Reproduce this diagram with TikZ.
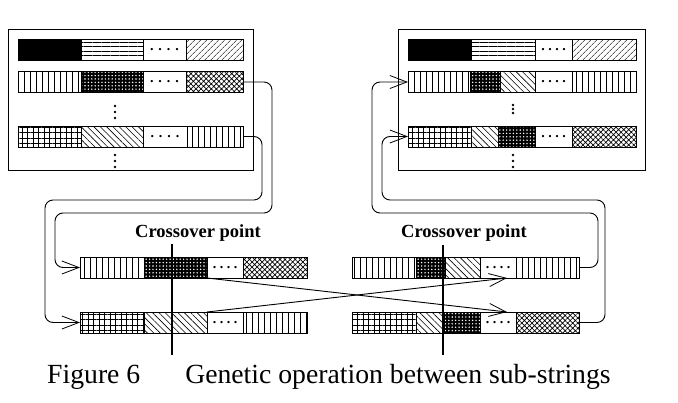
\documentclass[tikz,border=0pt]{standalone}
\usepackage{fontspec}
\setmainfont{Liberation Serif}
\usetikzlibrary{arrows.meta,positioning,patterns.meta}

\tikzset{
  seg/.style={draw,line width=0.9pt,minimum height=21pt,inner sep=0pt,outer sep=0pt,
    font=\fontsize{14}{14}\selectfont\bfseries},
  blk/.style={fill=black},
  hln/.style={pattern={Lines[angle=0,distance=4.5pt,line width=0.7pt]}},
  vln/.style={pattern={Lines[angle=90,distance=6pt,line width=0.8pt]}},
  neln/.style={pattern={Lines[angle=45,distance=4pt,line width=0.6pt]}},
  nwln/.style={pattern={Lines[angle=-45,distance=4.5pt,line width=0.6pt]}},
  grd/.style={pattern={Hatch[angle=0,distance=5.5pt,line width=0.7pt]}},
  xht/.style={pattern={Hatch[angle=45,distance=3.6pt,line width=0.7pt]}},
  ddt/.style={preaction={fill=black},pattern={Dots[distance=3.4pt,radius=0.8pt]},pattern color=white},
  link/.style={line width=0.9pt,rounded corners=8pt,->},
  label/.style={font=\fontsize{18.5}{20}\selectfont\bfseries}
}
\newcommand{\gapdots}{.\hspace{5pt}.\hspace{5pt}.\hspace{5pt}.}
\newcommand{\shortdots}{.\hspace{3.5pt}.\hspace{3.5pt}.\hspace{3.5pt}.}

\begin{document}
\begin{tikzpicture}[x=1pt,y=-1pt,>={Straight Barb[length=17pt,width=13pt,line width=0.8pt]}]
\useasboundingbox (0,0) rectangle (678,402);

\draw[line width=1pt] (8,29) rectangle (253,170);
\node[seg,blk,minimum width=63pt,anchor=west] (ob1a) at (18,50) {};
\node[seg,hln,minimum width=62pt,right=0pt of ob1a] (ob1b) {};
\node[seg,minimum width=43pt,right=0pt of ob1b] (ob1c) {\gapdots};
\node[seg,neln,minimum width=57pt,right=0pt of ob1c] (ob1d) {};
\node[seg,vln,minimum width=63pt,anchor=west] (ob2a) at (18,82) {};
\node[seg,ddt,minimum width=62pt,right=0pt of ob2a] (ob2b) {};
\node[seg,minimum width=43pt,right=0pt of ob2b] (ob2c) {\gapdots};
\node[seg,xht,minimum width=57pt,right=0pt of ob2c] (ob2d) {};
\node[seg,grd,minimum width=63pt,anchor=west] (ob3a) at (18,136.5) {};
\node[seg,nwln,minimum width=62pt,right=0pt of ob3a] (ob3b) {};
\node[seg,minimum width=44pt,right=0pt of ob3b] (ob3c) {\gapdots};
\node[seg,vln,minimum width=56pt,right=0pt of ob3c] (ob3d) {};
\foreach \y in {106,112,118,155,161,167} \fill (115,\y) circle (1.3pt);

\draw[line width=1pt] (398,29) rectangle (645,170);
\node[seg,blk,minimum width=63pt,anchor=west] (nb1a) at (408,50) {};
\node[seg,hln,minimum width=64pt,right=0pt of nb1a] (nb1b) {};
\node[seg,minimum width=37pt,right=0pt of nb1b] (nb1c) {\shortdots};
\node[seg,neln,minimum width=64pt,right=0pt of nb1c] (nb1d) {};
\node[seg,vln,minimum width=62pt,anchor=west] (nb2a) at (408,82) {};
\node[seg,ddt,minimum width=30pt,right=0pt of nb2a] (nb2b) {};
\node[seg,nwln,minimum width=35pt,right=0pt of nb2b] (nb2c) {};
\node[seg,minimum width=37pt,right=0pt of nb2c] (nb2d) {\shortdots};
\node[seg,vln,minimum width=64pt,right=0pt of nb2d] (nb2e) {};
\node[seg,grd,minimum width=63pt,anchor=west] (nb3a) at (408,136.5) {};
\node[seg,nwln,minimum width=27pt,right=0pt of nb3a] (nb3b) {};
\node[seg,ddt,minimum width=37pt,right=0pt of nb3b] (nb3c) {};
\node[seg,minimum width=37pt,right=0pt of nb3c] (nb3d) {\shortdots};
\node[seg,xht,minimum width=64pt,right=0pt of nb3d] (nb3e) {};
\foreach \y in {105,109,113,155,161,167} \fill (513,\y) circle (1.3pt);

\node[seg,vln,minimum width=64pt,anchor=west] (pa1) at (80,267.5) {};
\node[seg,ddt,minimum width=63pt,right=0pt of pa1] (pa2) {};
\node[seg,minimum width=36pt,right=0pt of pa2] (pa3) {\shortdots};
\node[seg,xht,minimum width=64pt,right=0pt of pa3] (pa4) {};
\node[seg,grd,minimum width=64pt,anchor=west] (pb1) at (80,322.5) {};
\node[seg,nwln,minimum width=63pt,right=0pt of pb1] (pb2) {};
\node[seg,minimum width=36pt,right=0pt of pb2] (pb3) {\shortdots};
\node[seg,vln,minimum width=64pt,right=0pt of pb3] (pb4) {};

\node[seg,vln,minimum width=64pt,anchor=west] (ca1) at (352,267.5) {};
\node[seg,ddt,minimum width=29pt,right=0pt of ca1] (ca2) {};
\node[seg,nwln,minimum width=35pt,right=0pt of ca2] (ca3) {};
\node[seg,minimum width=36pt,right=0pt of ca3] (ca4) {\shortdots};
\node[seg,vln,minimum width=63pt,right=0pt of ca4] (ca5) {};
\node[seg,grd,minimum width=64pt,anchor=west] (cb1) at (352,322.5) {};
\node[seg,nwln,minimum width=28pt,right=0pt of cb1] (cb2) {};
\node[seg,ddt,minimum width=36pt,right=0pt of cb2] (cb3) {};
\node[seg,minimum width=36pt,right=0pt of cb3] (cb4) {\shortdots};
\node[seg,xht,minimum width=63pt,right=0pt of cb4] (cb5) {};

\draw[link] (ob2d.east) -- (272,82) -- (272,213) -- (55,213) -- (55,267.5) -- (pa1.west);
\draw[link] (ob3d.east) -- (262,136.5) -- (262,200) -- (45,200) -- (45,322.5) -- (pb1.west);
\draw[link] (ca5.east) -- (598,267.5) -- (598,213) -- (372,213) -- (372,82) -- (nb2a.west);
\draw[link] (cb5.east) -- (605,322.5) -- (605,200) -- (382,200) -- (382,136.5) -- (nb3a.west);
\draw[->,line width=0.9pt] (pa2.south east) -- ([xshift=9pt]cb4.north);
\draw[->,line width=0.9pt] (pb2.north east) -- ([xshift=9pt]ca4.south);

\node[label] (xlab1) at (198,233) {Crossover point};
\node[label] (xlab2) at (464,233) {Crossover point};
\coordinate (xt1) at (172,244); \coordinate (xb1) at (172,355);
\coordinate (xt2) at (443,245); \coordinate (xb2) at (443,355);
\draw[line width=1.1pt] (xt1) -- (xb1);
\draw[line width=1.1pt] (xt2) -- (xb2);

\node[anchor=base west,inner sep=0pt,font=\fontsize{27.7}{30}\selectfont] (cap) at (47,383)
  {Figure 6\hspace{45pt}Genetic operation between sub-strings};
\end{tikzpicture}
\end{document}
